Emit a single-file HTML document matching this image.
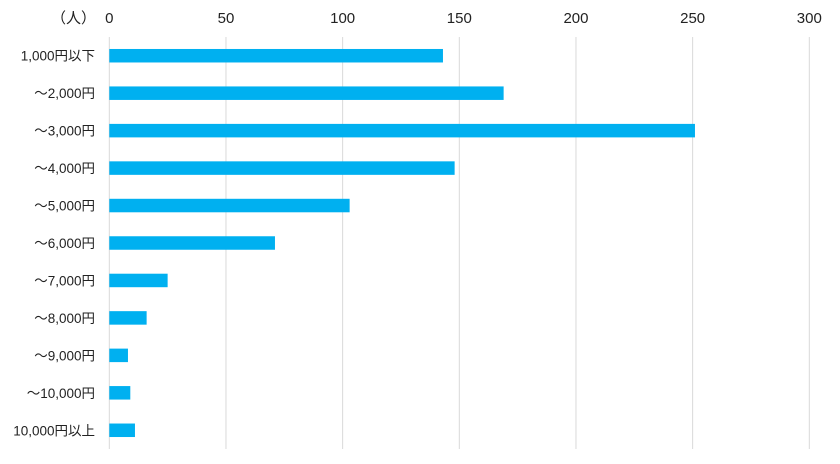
<!DOCTYPE html>
<html><head><meta charset="utf-8"><style>
body{margin:0;background:#fff;width:840px;height:459px;overflow:hidden}
text{font-family:"Liberation Sans","Noto Sans CJK JP",sans-serif;fill:#222}
</style></head><body>
<svg id="c" width="840" height="459"></svg>
<script>
const categories=["1,000円以下","～2,000円","～3,000円","～4,000円","～5,000円","～6,000円","～7,000円","～8,000円","～9,000円","～10,000円","10,000円以上"];
const values=[143,169,251,148,103,71,25,16,8,9,11];
const ticks=[0,50,100,150,200,250,300];
const NS="http://www.w3.org/2000/svg";
const svg=document.getElementById('c');
const x0=109.3,x1=809.3,yTop=37,yBot=449,maxV=300;
const xs=v=>x0+(v/maxV)*(x1-x0);
const band=(yBot-yTop)/categories.length;
function mk(t,a){const e=document.createElementNS(NS,t);for(const k in a)e.setAttribute(k,a[k]);svg.appendChild(e);return e;}
ticks.forEach(t=>{
 const l=mk('line',{x1:xs(t),x2:xs(t),y1:yTop,y2:yBot,stroke:'#d9d9d9','stroke-width':1});
 
 
 const tx=mk('text',{x:xs(t),y:23,'text-anchor':'middle','font-size':15});
 tx.textContent=t;
 
 
});
const u=mk('text',{x:96,y:23,'text-anchor':'end','font-size':15});
u.textContent='（人）';


categories.forEach((c,i)=>{
 const cy=yTop+band*(i+0.5);
 const bh=13.5;
 const r=mk('rect',{x:x0,y:cy-bh/2,width:xs(values[i])-x0,height:bh,fill:'#00b0f0'});
 
 
 const t=mk('text',{x:95,y:cy+5,'text-anchor':'end','font-size':13.5});
 t.textContent=c;
 
 
});
</script>
</body></html>
